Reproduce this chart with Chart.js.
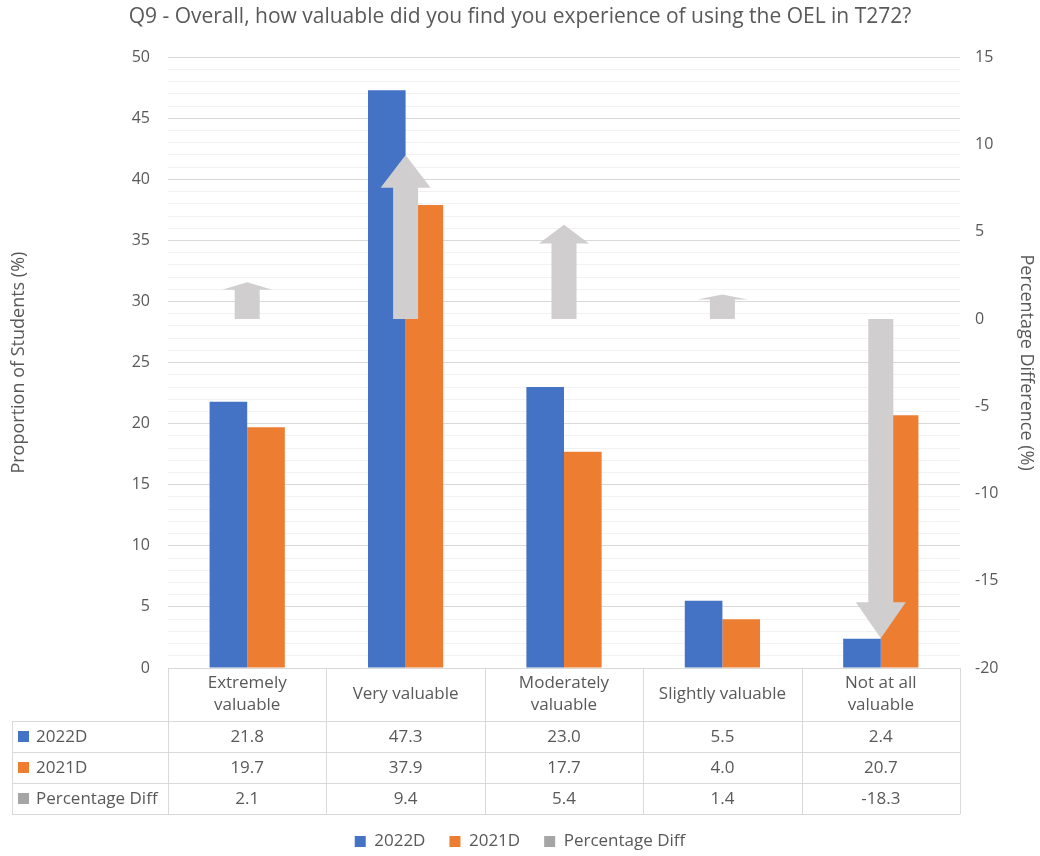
<!DOCTYPE html>
<html>
<head>
<meta charset="utf-8">
<title>Q9 - OEL value</title>
<script src="https://cdn.jsdelivr.net/npm/chart.js@4.4.1/dist/chart.umd.min.js"></script>
<style>
  html, body { margin: 0; padding: 0; background: #fff; }
</style>
</head>
<body>
<canvas id="myChart" width="1040" height="856"></canvas>
<script>
// survey answers, one entry per category
const categories = [['Extremely', 'valuable'], 'Very valuable', ['Moderately', 'valuable'], 'Slightly valuable', ['Not at all', 'valuable']];
const values2022 = [21.8, 47.3, 23.0, 5.5, 2.4];
const values2021 = [19.7, 37.9, 17.7, 4.0, 20.7];
const percentDiff = [2.1, 9.4, 5.4, 1.4, -18.3];

const leftTicks = [0, 5, 10, 15, 20, 25, 30, 35, 40, 45, 50];
const rightTicks = [-20, -15, -10, -5, 0, 5, 10, 15];

const BLUE = '#4472c4';
const ORANGE = '#ed7d31';
const GREY = '#a5a5a5';
const ARROW = '#d0cece';
const TEXT = '#595959';
const LINE = '#d9d9d9';
const FONT = "'Open Sans', sans-serif";
const TABLE_FONT_SIZE = 17;

Chart.defaults.font.family = FONT;
Chart.defaults.color = TEXT;

const ARROW_INDEX = 2;

// the difference series is drawn as block arrows from zero
const arrowPlugin = {
    id: 'diffArrows',
    beforeDatasetDraw(chart, args) {
        if (args.index === ARROW_INDEX) return false;
    },
    afterDatasetsDraw(chart) {
        const ctx = chart.ctx;
        const meta = chart.getDatasetMeta(ARROW_INDEX);
        const shaft = 12.5, wing = 25;
        ctx.save();
        ctx.fillStyle = ARROW;
        meta.data.forEach(function (el) {
            const p = el.getProps(['x', 'y', 'base'], true);
            const len = p.base - p.y;
            const head = Math.min(Math.abs(len) * 0.2, 36) * Math.sign(len);
            ctx.beginPath();
            ctx.moveTo(p.x - shaft, p.base);
            ctx.lineTo(p.x - shaft, p.y + head);
            ctx.lineTo(p.x - wing, p.y + head);
            ctx.lineTo(p.x, p.y);
            ctx.lineTo(p.x + wing, p.y + head);
            ctx.lineTo(p.x + shaft, p.y + head);
            ctx.lineTo(p.x + shaft, p.base);
            ctx.closePath();
            ctx.fill();
        });
        ctx.restore();
    }
};

// data table under the plot, columns follow the category axis
const tablePlugin = {
    id: 'dataTable',
    afterDraw(chart) {
        const ctx = chart.ctx;
        const xs = chart.scales.x;
        const area = chart.chartArea;
        const colW = xs.getPixelForValue(1) - xs.getPixelForValue(0);
        const gridLeft = xs.getPixelForValue(0) - colW / 2;
        const gridRight = xs.getPixelForValue(categories.length - 1) + colW / 2;
        const labelLeft = 12;
        const headTop = area.bottom;
        const headH = 53;
        const rowH = 31;
        const rows = chart.data.datasets;
        const bottom = headTop + headH + rows.length * rowH;
        const snap = v => Math.round(v) + 0.5;

        ctx.save();
        ctx.strokeStyle = LINE;
        ctx.lineWidth = 1;
        ctx.beginPath();
        ctx.moveTo(gridLeft, snap(headTop));
        ctx.lineTo(gridRight, snap(headTop));
        for (let r = 0; r <= rows.length; r++) {
            const y = snap(headTop + headH + r * rowH);
            ctx.moveTo(labelLeft, y);
            ctx.lineTo(gridRight, y);
        }
        for (let c = 0; c <= categories.length; c++) {
            const x = snap(gridLeft + c * colW);
            ctx.moveTo(x, headTop);
            ctx.lineTo(x, bottom);
        }
        ctx.moveTo(snap(labelLeft), headTop + headH);
        ctx.lineTo(snap(labelLeft), bottom);
        ctx.stroke();

        ctx.fillStyle = TEXT;
        ctx.font = TABLE_FONT_SIZE + 'px ' + FONT;
        ctx.textBaseline = 'middle';
        ctx.textAlign = 'center';
        categories.forEach(function (lab, i) {
            const lines = Array.isArray(lab) ? lab : [lab];
            const cx = xs.getPixelForValue(i);
            const cy = headTop + headH / 2;
            lines.forEach(function (t, k) {
                ctx.fillText(t, cx, cy + (k - (lines.length - 1) / 2) * 22);
            });
        });

        rows.forEach(function (ds, r) {
            const cy = headTop + headH + r * rowH + rowH / 2;
            ctx.fillStyle = ds.backgroundColor;
            ctx.fillRect(18, Math.round(cy - 5.5), 11, 11);
            ctx.fillStyle = TEXT;
            ctx.textAlign = 'left';
            ctx.fillText(ds.label, 36, cy + 1);
            ctx.textAlign = 'center';
            ds.data.forEach(function (v, i) {
                ctx.fillText(v.toFixed(1), xs.getPixelForValue(i), cy + 1);
            });
        });
        ctx.restore();
    }
};

const ctx = document.getElementById('myChart').getContext('2d');
const myChart = new Chart(ctx, {
    type: 'bar',
    data: {
        labels: categories,
        datasets: [{
            label: '2022D',
            data: values2022,
            backgroundColor: BLUE,
            yAxisID: 'y',
            borderWidth: 0
        }, {
            label: '2021D',
            data: values2021,
            backgroundColor: ORANGE,
            yAxisID: 'y',
            borderWidth: 0
        }, {
            label: 'Percentage Diff',
            data: percentDiff,
            backgroundColor: GREY,
            yAxisID: 'y1',
            grouped: false,
            borderWidth: 0
        }]
    },
    options: {
        responsive: false,
        animation: false,
        devicePixelRatio: 1,
        categoryPercentage: 0.475,
        barPercentage: 1,
        layout: { padding: { left: 0, right: 0, top: 0, bottom: -4 } },
        plugins: {
            title: {
                display: true,
                text: 'Q9 - Overall, how valuable did you find you experience of using the OEL in T272?',
                color: TEXT,
                font: { size: 21, weight: 'normal' },
                padding: { top: 4, bottom: 28 }
            },
            legend: {
                position: 'bottom',
                labels: {
                    boxWidth: 11,
                    boxHeight: 11,
                    padding: 24,
                    color: TEXT,
                    font: { size: TABLE_FONT_SIZE }
                }
            },
            tooltip: { enabled: false }
        },
        scales: {
            x: {
                ticks: { display: false },
                grid: { display: false },
                border: { display: false },
                afterFit: function (scale) { scale.height = 141; }
            },
            y: {
                position: 'left',
                min: leftTicks[0],
                max: leftTicks[leftTicks.length - 1],
                ticks: {
                    stepSize: 1,
                    autoSkip: false,
                    maxTicksLimit: 100,
                    padding: 18,
                    font: { size: 16 },
                    callback: function (v) { return leftTicks.includes(v) ? v : ''; }
                },
                grid: {
                    drawTicks: false,
                    color: function (c) { return c.tick && leftTicks.includes(c.tick.value) ? LINE : '#f2f2f2'; }
                },
                border: { display: false },
                title: {
                    display: true,
                    text: 'Proportion of Students (%)',
                    font: { size: 18 },
                    padding: { top: 8, bottom: 0 }
                },
                afterFit: function (scale) { scale.width = 168; }
            },
            y1: {
                position: 'right',
                min: rightTicks[0],
                max: rightTicks[rightTicks.length - 1],
                ticks: {
                    stepSize: rightTicks[1] - rightTicks[0],
                    padding: 15,
                    font: { size: 16 }
                },
                grid: { display: false, drawTicks: false },
                border: { display: false },
                title: {
                    display: true,
                    text: 'Percentage Difference (%)',
                    font: { size: 18 },
                    padding: { top: 3, bottom: 0 }
                },
                afterFit: function (scale) { scale.width = 80; }
            }
        }
    },
    plugins: [arrowPlugin, tablePlugin]
});
</script>
</body>
</html>
